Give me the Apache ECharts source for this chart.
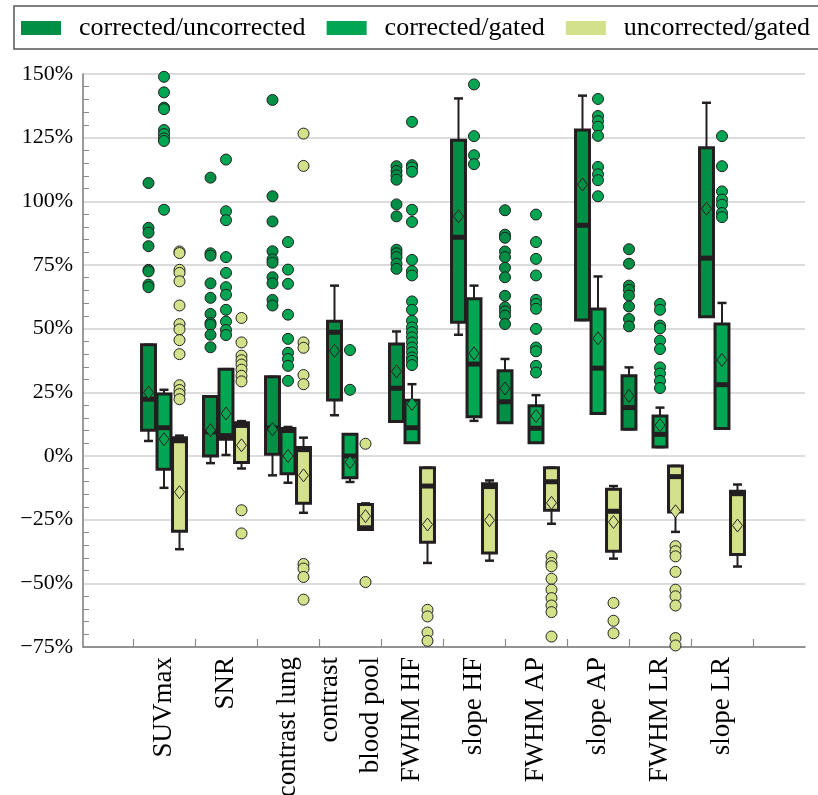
<!DOCTYPE html>
<html>
<head>
<meta charset="utf-8">
<script src="https://cdn.jsdelivr.net/npm/echarts@6/dist/echarts.min.js"></script>
<style>
  html, body { margin: 0; padding: 0; background: #ffffff; }
  #chart { width: 818px; height: 795px; }
</style>
</head>
<body>
<div id="chart"></div>
<script>
// ---- data -------------------------------------------------------------
const categories = ['SUVmax', 'SNR', 'contrast lung', 'contrast\nblood pool', 'FWHM HF',
                    'slope HF', 'FWHM AP', 'slope AP', 'FWHM LR', 'slope LR'];
const seriesNames = ['corrected/uncorrected', 'corrected/gated', 'uncorrected/gated'];
const yTicks = [-75, -50, -25, 0, 25, 50, 75, 100, 125, 150];

// box statistics per category, in percent:
// [lower whisker, Q1, median, Q3, upper whisker, mean]
const corrUncorrBoxes = [
  [5.9, 10.1, 22.3, 43.7, 43.7, 24.9],
  [-2.8, 0, 9.5, 23.4, 23.4, 10.1],
  [-7.6, 0.7, 11, 31.1, 31.1, 10.5],
  [16.0, 22.0, 48.6, 52.9, 66.9, 41.3],
  [13.5, 13.5, 26.6, 44.0, 48.9, 33.2],
  [47.6, 52.5, 85.9, 124.0, 140.4, 94.1],
  [13.1, 13.1, 21.3, 33.5, 38.1, 26.5],
  [53.4, 53.4, 90.6, 128.0, 141.5, 106.6],
  [10.5, 10.5, 19.0, 31.5, 34.8, 23.6],
  [54.7, 54.7, 77.7, 121.0, 138.7, 97.1]
];
const corrGatedBoxes = [
  [-12.5, -5.2, 11.1, 24.3, 26.0, 6.6],
  [0.4, 6.6, 8.0, 34.1, 34.1, 16.7],
  [-10.5, -7.0, 10.0, 10.8, 11.4, 0.0],
  [-10.2, -8.5, 0.0, 8.5, 8.5, -2.4],
  [5.2, 5.2, 11.1, 21.9, 28.2, 20.4],
  [13.8, 15.4, 36.1, 61.7, 66.9, 40.3],
  [5.2, 5.2, 10.9, 19.7, 23.9, 15.7],
  [16.7, 16.7, 34.5, 57.7, 70.5, 46.2],
  [3.5, 3.5, 8.5, 15.7, 19.0, 12.1],
  [10.8, 10.8, 28.0, 51.8, 60.1, 37.7]
];
const uncorrGatedBoxes = [
  [-36.6, -29.5, 6.0, 7.2, 8.0, -14.2],
  [-4.9, -2.6, 12.0, 13.1, 13.7, 4.2],
  [-22.3, -18.6, 2.5, 3.3, 7.2, -7.6],
  [-28.9, -28.9, -28.2, -19.0, -18.6, -23.6],
  [-42.0, -33.9, -11.8, -4.6, -4.6, -26.9],
  [-41.1, -38.1, -12.0, -10.9, -9.6, -25.2],
  [-26.6, -21.3, -10.1, -4.6, -4.6, -18.4],
  [-40.3, -37.4, -21.7, -13.1, -11.8, -25.9],
  [-29.8, -22.0, -8.1, -3.9, -3.9, -21.7],
  [-43.4, -38.7, -14.8, -13.8, -11.2, -27.3]
];

// outlying observations per category, in percent
const corrUncorrOutliers = [
  [107.2, 89.6, 87.7, 82.4, 73.1, 72.5, 67.3, 66.3],
  [109.3, 79.6, 78.7, 67.8, 62.1, 55.8, 52.2, 51.5, 47.6, 42.7],
  [139.8, 102.0, 92.1, 80.4, 77.2, 75.9, 70.2, 67.8, 61.3, 59.1],
  [],
  [113.8, 111.9, 110.2, 108.5, 98.8, 94.1, 81.0, 79.6, 78.1, 75.5, 73.5],
  [],
  [96.5, 86.9, 85.7, 80.3, 78.1, 73.9, 70.2, 62.9, 58.4, 56.8, 55.1, 51.8],
  [],
  [81.2, 75.5, 66.9, 65.2, 63.0, 58.7, 53.8, 50.9],
  []
];
const corrGatedOutliers = [
  [148.9, 142.8, 136.8, 136.2, 128.0, 126.4, 124.7, 123.7, 96.7],
  [116.4, 96.1, 92.6, 78.1, 71.9, 66.3, 63.3, 57.4, 52.8, 49.5, 47.5],
  [84.0, 73.2, 67.6, 55.5, 46.0, 40.5, 38.1, 35.4, 29.5],
  [41.6, 26.0],
  [131.2, 114.2, 113.3, 111.6, 96.7, 91.9, 77.0, 72.6, 70.9, 60.7, 57.4, 53.1, 50.5,
   48.6, 46.6, 44.6, 42.6, 40.7, 38.7, 37.4, 35.7],
  [145.9, 125.6, 118.1, 114.6],
  [94.8, 84.0, 77.4, 70.9, 61.3, 59.7, 57.8, 49.9, 42.6, 41.1, 35.4, 32.8],
  [140.2, 133.5, 131.5, 129.3, 125.7, 113.5, 110.6, 108.3, 102.0],
  [59.7, 57.4, 51.2, 50.1, 45.3, 42.0, 34.8, 32.4, 29.5, 26.7],
  [125.6, 113.8, 103.9, 100.7, 98.7, 95.4, 93.8]
];
const uncorrGatedOutliers = [
  [80.3, 79.7, 73.1, 71.9, 68.6, 59.1, 51.8, 49.7, 45.5, 40.0, 27.8, 25.9, 24.3, 22.3],
  [54.2, 44.6, 39.4, 37.6, 35.9, 33.9, 31.5, 29.3, -21.3, -30.4],
  [126.6, 113.9, 44.6, 42.5, 31.8, 28.2, -42.4, -44.2, -47.5, -56.4],
  [4.8, -49.5],
  [-60.4, -63.0, -69.3, -72.6],
  [],
  [-39.4, -42.0, -43.3, -48.2, -52.5, -55.8, -58.7, -61.3, -70.9],
  [-57.7, -64.7, -69.6],
  [-35.4, -37.4, -39.4, -45.5, -52.5, -55.1, -58.7, -71.5, -74.4],
  []
];

// ---- layout & style ---------------------------------------------------
const colors = ['#008f45', '#00a651', '#d3e18b'];
const INK = '#231f20';
const FONT = '"Liberation Serif", "Times New Roman", serif';
const SLOT = 0.25;            // distance between neighbouring boxes, in category units
const BOX_W = 0.225;          // box width, in category units
// the first series sits two slots left of the group centre for these groups
const wideSlot = { 'FWHM AP': true, 'FWHM LR': true };

function slotOffset(seriesIdx, catIdx) {
  if (seriesIdx === 0 && wideSlot[categories[catIdx]]) return -2 * SLOT;
  return (seriesIdx - 1) * SLOT;
}
function groupCentre(catIdx) { return catIdx + 0.5; }

const boxSets = [corrUncorrBoxes, corrGatedBoxes, uncorrGatedBoxes];
const outlierSets = [corrUncorrOutliers, corrGatedOutliers, uncorrGatedOutliers];

function renderBox(params, api) {
  const x = api.value(0);
  const pLow = api.coord([x, api.value(1)]);
  const pQ1 = api.coord([x, api.value(2)]);
  const pMed = api.coord([x, api.value(3)]);
  const pQ3 = api.coord([x, api.value(4)]);
  const pHigh = api.coord([x, api.value(5)]);
  const pMean = api.coord([x, api.value(6)]);
  const cx = pQ1[0];
  const half = api.size([BOX_W, 0])[0] / 2;
  const capHalf = 4.5;
  const fill = api.visual('color');
  const lineStyle = { stroke: INK, lineWidth: 2, fill: null };
  return {
    type: 'group',
    children: [
      { type: 'line', shape: { x1: cx, y1: pQ3[1], x2: cx, y2: pHigh[1] }, style: lineStyle },
      { type: 'line', shape: { x1: cx, y1: pQ1[1], x2: cx, y2: pLow[1] }, style: lineStyle },
      { type: 'line', shape: { x1: cx - capHalf, y1: pHigh[1], x2: cx + capHalf, y2: pHigh[1] },
        style: { stroke: INK, lineWidth: 2.5 } },
      { type: 'line', shape: { x1: cx - capHalf, y1: pLow[1], x2: cx + capHalf, y2: pLow[1] },
        style: { stroke: INK, lineWidth: 2.5 } },
      { type: 'rect', shape: { x: cx - half, y: pQ3[1], width: 2 * half, height: pQ1[1] - pQ3[1] },
        style: { fill: fill, stroke: INK, lineWidth: 3 } },
      { type: 'rect', shape: { x: cx - half, y: pMed[1] - 2.5, width: 2 * half, height: 5 },
        style: { fill: INK } },
      { type: 'polygon',
        shape: { points: [[cx, pMean[1] - 6.5], [cx + 5, pMean[1]], [cx, pMean[1] + 6.5], [cx - 5, pMean[1]]] },
        style: { fill: fill, stroke: INK, lineWidth: 1 } }
    ]
  };
}

const series = [];
seriesNames.forEach(function (name, s) {
  const boxData = [];
  const pointData = [];
  boxSets[s].forEach(function (b, c) {
    if (!b) return;
    const x = groupCentre(c) + slotOffset(s, c);
    boxData.push([x].concat(b));
    outlierSets[s][c].forEach(function (v) { pointData.push([x, v]); });
  });
  series.push({
    name: name,
    type: 'custom',
    renderItem: renderBox,
    itemStyle: { color: colors[s] },
    encode: { x: 0, y: [1, 2, 3, 4, 5, 6] },
    data: boxData,
    z: 2
  });
  series.push({
    name: name,
    type: 'scatter',
    symbol: 'circle',
    symbolSize: 11,
    itemStyle: { color: colors[s], borderColor: INK, borderWidth: 1, opacity: 1 },
    data: pointData,
    z: 3
  });
});

// ---- chart ------------------------------------------------------------
const tickPositions = [];
for (let i = 0; i <= categories.length; i++) tickPositions.push(i);
const labelPositions = categories.map(function (c, i) { return groupCentre(i); });

const GRID_LEFT = 83, GRID_RIGHT = 13;
const chartWidth = 818;
// one category spans 62 px; the first tick lies 50 px right of the y axis
const unitPx = 62, firstTickPx = 50;
const xMin = -firstTickPx / unitPx;
const xMax = xMin + (chartWidth - GRID_LEFT - GRID_RIGHT) / unitPx;

const chart = echarts.init(document.getElementById('chart'), null, { renderer: 'canvas' });
chart.setOption({
  animation: false,
  backgroundColor: '#ffffff',
  textStyle: { fontFamily: FONT },
  legend: {
    left: 14,
    top: 6,
    width: 1200,
    padding: [7, 12, 6, 7],
    borderColor: '#555555',
    borderWidth: 1.5,
    borderRadius: 0,
    itemWidth: 40,
    itemHeight: 14,
    itemGap: 21,
    icon: 'rect',
    selectedMode: false,
    data: seriesNames.map(function (n, i) {
      return { name: n, icon: 'rect', itemStyle: { color: colors[i], borderWidth: 0 } };
    }),
    textStyle: { fontFamily: FONT, fontSize: 26, color: '#000', padding: [0, 0, 0, 13], lineHeight: 30 }
  },
  grid: { left: GRID_LEFT, right: GRID_RIGHT, top: 74, bottom: 148, containLabel: false,
          outerBoundsMode: 'none' },
  xAxis: {
    type: 'value',
    min: xMin,
    max: xMax,
    splitLine: { show: false },
    axisLine: { show: true, onZero: false, lineStyle: { color: '#7a7a7a', width: 1.5 } },
    axisTick: { show: true, inside: true, length: 8, customValues: tickPositions,
                lineStyle: { color: '#8a8a8a', width: 1.2 } },
    axisLabel: {
      customValues: labelPositions,
      rotate: 90,
      margin: 10,
      fontFamily: FONT,
      fontSize: 27,
      lineHeight: 41,
      color: '#000',
      formatter: function (v) {
        let best = 0;
        labelPositions.forEach(function (p, i) {
          if (Math.abs(p - v) < Math.abs(labelPositions[best] - v)) best = i;
        });
        return categories[best];
      }
    }
  },
  yAxis: {
    type: 'value',
    min: yTicks[0],
    max: yTicks[yTicks.length - 1],
    interval: yTicks[1] - yTicks[0],
    axisLine: { show: true, onZero: false, lineStyle: { color: '#7a7a7a', width: 1.5 } },
    axisTick: { show: false, inside: true },
    minorTick: { show: true, splitNumber: 5, length: 6, lineStyle: { color: '#8a8a8a', width: 1 } },
    splitLine: { show: true, lineStyle: { color: '#d0d0d0', width: 1.5 } },
    axisLabel: {
      fontFamily: FONT,
      fontSize: 22,
      color: '#000',
      margin: 10,
      formatter: function (v) { return (v < 0 ? '\u2212' + Math.abs(v) : v) + '%'; }
    }
  },
  series: series
});
</script>
</body>
</html>
